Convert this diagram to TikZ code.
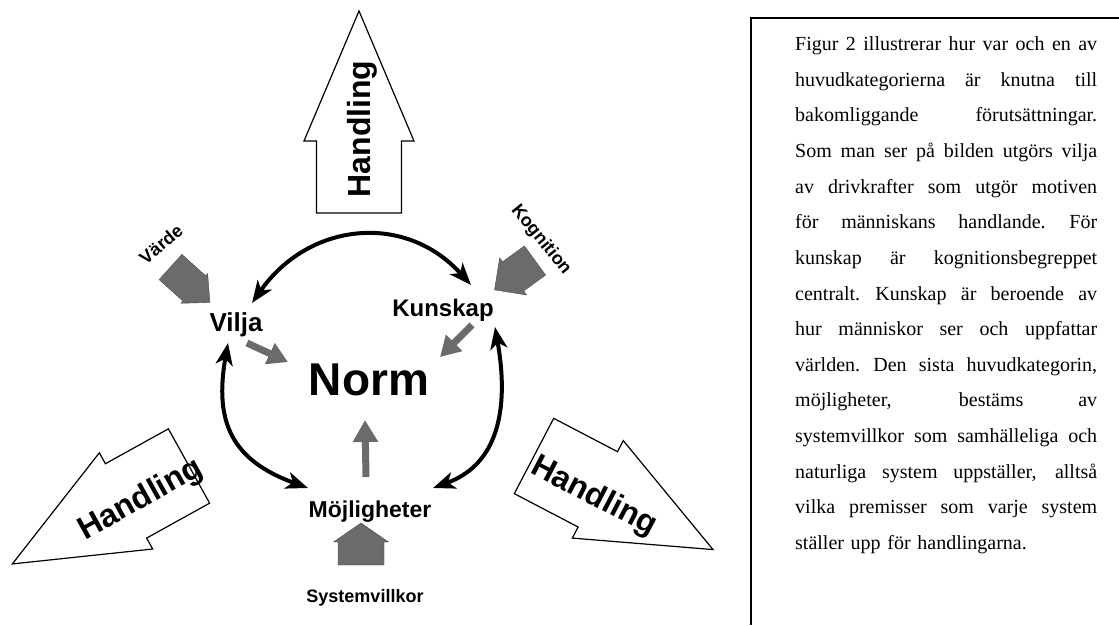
\documentclass[tikz,border=0pt]{standalone}
\usepackage{fontspec}
\usepackage{tikz}
\usetikzlibrary{arrows.meta}

\newfontfamily\diagfont{Liberation Sans}
\newfontfamily\notefont{Liberation Serif}
\newcommand{\jline}[1]{\noindent\hbox to 302pt{\spaceskip=5pt plus 1fil\xspaceskip=6pt plus 1fil #1}\par}

\begin{document}
\begin{tikzpicture}[x=1pt, y=1pt, line join=miter]
        \tikzstyle{bigarrow}=[draw=black, fill=white, line width=1.2pt]
        \tikzstyle{greyblock}=[fill=black!58, draw=black!70, line width=0.4pt]
        \tikzstyle{loopline}=[{Stealth[length=22pt,width=17pt,inset=6pt]}-{Stealth[length=22pt,width=17pt,inset=6pt]}, line width=4pt]
        \tikzstyle{greyline}=[-{Triangle[length=20pt,width=22pt]}, line width=7pt, draw=black!58, fill=black!58]
        \tikzstyle{catname}=[inner sep=0pt, anchor=base, font=\diagfont\bfseries\fontsize{24pt}{24pt}\selectfont]
        \tikzstyle{handtext}=[inner sep=0pt, font=\diagfont\bfseries\fontsize{32pt}{32pt}\selectfont]
        \tikzstyle{smalltext}=[inner sep=0pt, font=\diagfont\bfseries\fontsize{18pt}{18pt}\selectfont]

        \useasboundingbox (0,0) rectangle (1119,625);

        % Draw the three Handling arrows
        \foreach \x/\y/\ang/\tx/\ty/\trot [count=\i] in {359/412/90/84/-3/90, 189/159/209/58.5/6.5/29, 534/169/-27.6/72/-8.5/-27.6} {
            \begin{scope}[shift={(\x,\y)}, rotate=\ang]
                \draw[bigarrow] (0,-42.5) -- (72,-42.5) -- (72,-55) -- (202,0) -- (72,55) -- (72,42.5) -- (0,42.5) -- cycle;
                \node[handtext, rotate=\trot] (hand-\i) at (\tx,\ty) {Handling};
            \end{scope}
        }

        % Draw the grey block arrows (Värde, Kognition, Systemvillkor)
        \foreach \x/\y/\ang/\len/\hl/\hw/\sw in {170.5/358/-42/53/21/20/17, 535/364.5/216/50/23/23/18, 361/60/90/42/19/27.5/23}
            \filldraw[greyblock, shift={(\x,\y)}, rotate=\ang]
                (0,-\sw) -- (\len-\hl,-\sw) -- (\len-\hl,-\hw) -- (\len,0) -- (\len-\hl,\hw) -- (\len-\hl,\sw) -- (0,\sw) -- cycle;

        % Draw the category names
        \node[catname, font=\diagfont\bfseries\fontsize{26pt}{26pt}\selectfont] (vilja) at (236,294) {Vilja};
        \node[catname] (kunskap) at (443,309) {Kunskap};
        \node[catname, font=\diagfont\bfseries\fontsize{46pt}{46pt}\selectfont] (norm) at (369,230) {Norm};
        \node[catname, font=\diagfont\bfseries\fontsize{23pt}{23pt}\selectfont] (mojl) at (370,108) {Möjligheter};
        \node[smalltext, anchor=base] (system) at (365,23) {Systemvillkor};
        \node[smalltext, rotate=40] (varde) at (161,381) {Värde};
        \node[smalltext, rotate=-51] (kogn) at (541,385) {Kognition};

        % Connect the three categories round the circle
        \draw[loopline] ([shift={(16,28)}]vilja.base) to[out=55, in=132, looseness=1.15] ([shift={(28,31)}]kunskap.base);
        \draw[loopline] ([shift={(-8,-12)}]vilja.base) to[out=-100, in=160, looseness=1.25] ([shift={(-62,29)}]mojl.base);
        \draw[loopline] ([shift={(52,-11)}]kunskap.base) to[out=-80, in=20, looseness=1.1] ([shift={(63,29)}]mojl.base);

        % Connect every category with the norm
        \draw[greyline] ([shift={(11,-12)}]vilja.base) -- ([shift={(-81,33)}]norm.base);
        \draw[greyline] ([shift={(29,-9)}]kunskap.base) -- ([shift={(71,38)}]norm.base);
        \draw[greyline, -{Triangle[length=22pt,width=24pt]}] ([shift={(-4,40)}]mojl.base) -- ([shift={(-4,-25)}]norm.base);

        % Draw the text frame
        \draw[line width=1.6pt] (751,0) -- (751,607) -- (1119,607);
        \node[inner sep=0pt, anchor=base west, text width=302pt, font=\notefont\fontsize{20pt}{35.65pt}\selectfont] (note) at (795,574.5) {%
            \baselineskip=35.65pt
            \jline{Figur 2 illustrerar hur var och en av}
            \jline{huvudkategorierna är knutna till}
            \jline{bakomliggande förutsättningar.}
            \jline{Som man ser på bilden utgörs vilja}
            \jline{av drivkrafter som utgör motiven}
            \jline{för människans handlande. För}
            \jline{kunskap är kognitionsbegreppet}
            \jline{centralt. Kunskap är beroende av}
            \jline{hur människor ser och uppfattar}
            \jline{världen. Den sista huvudkategorin,}
            \jline{möjligheter, bestäms av}
            \jline{systemvillkor som samhälleliga och}
            \jline{naturliga system uppställer, alltså}
            \jline{vilka premisser som varje system}
            \noindent ställer upp för handlingarna.\par};
    \end{tikzpicture}
\end{document}
